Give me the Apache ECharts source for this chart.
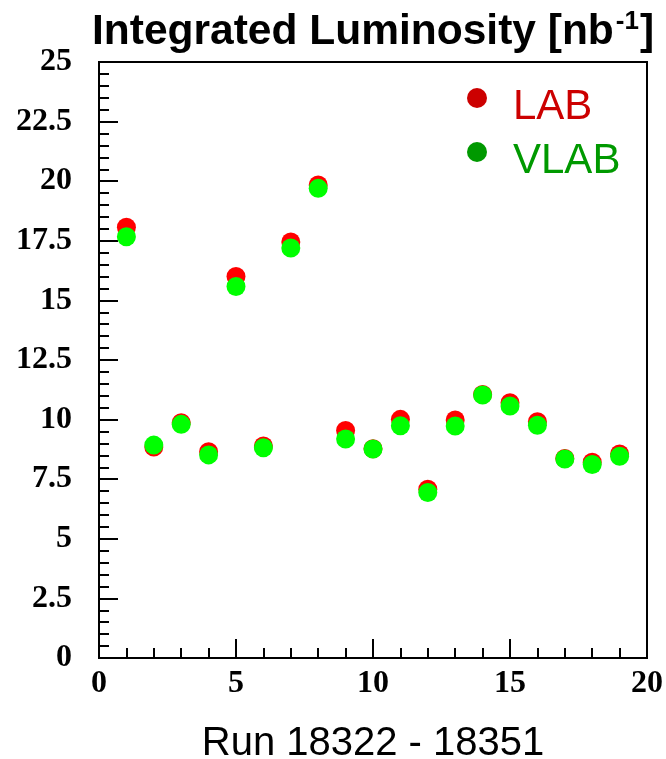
<!DOCTYPE html>
<html>
<head>
<meta charset="utf-8">
<script src="https://cdn.jsdelivr.net/npm/echarts@6/dist/echarts.min.js"></script>
<style>html,body{margin:0;padding:0;background:#fff;}#c{width:666px;height:759px;}</style>
</head>
<body>
<div id="c"></div>
<script>
var runs = [1,2,3,4,5,6,7,8,9,10,11,12,13,14,15,16,17,18,19];
var labValues  = [18.07,8.85,9.87,8.65,16.0,8.89,17.45,19.84,9.54,8.78,10.01,7.08,9.98,11.05,10.71,9.91,8.37,8.21,8.56];
var vlabValues = [17.67,8.93,9.80,8.52,15.58,8.82,17.20,19.70,9.19,8.77,9.74,6.94,9.73,11.03,10.57,9.76,8.35,8.12,8.46];
var seriesNames = ['LAB','VLAB'];
var markerColors = ['#FF0000','#00FF00'];
var legendColors = ['#CC0000','#009900'];
var titleText = 'Integrated Luminosity [nb';
var titleSup = '-1';
var xTitle = 'Run 18322 - 18351';

function pairs(vals){ return runs.map(function(r,i){ return [r, vals[i]]; }); }

var legendGraphics = [];
seriesNames.forEach(function(n, i){
  legendGraphics.push({type:'circle', shape:{cx:477, cy:98 + i*54, r:10}, style:{fill:legendColors[i]}, silent:true});
  legendGraphics.push({type:'text', x:513, y:107 + i*54, style:{text:n, fill:legendColors[i], font:'42px "Liberation Sans"', verticalAlign:'middle', align:'left'}, silent:true});
});

var chart = echarts.init(document.getElementById('c'), null, {renderer:'canvas'});
chart.setOption({
  animation:false,
  backgroundColor:'#fff',
  title:{
    text:'{a|'+titleText+'}{s|'+titleSup+'}{a|]}',
    left:92, top:9, padding:0,
    textStyle:{
      rich:{
        a:{fontFamily:'Liberation Sans',fontWeight:'bold',fontSize:42.5,color:'#000',lineHeight:46},
        s:{fontFamily:'Liberation Sans',fontWeight:'bold',fontSize:26,color:'#000',verticalAlign:'top',lineHeight:46,padding:[0,1,0,2]}
      }
    }
  },
  grid:{left:99,right:19,top:62,bottom:101,outerBoundsMode:'none',containLabel:false,show:true,borderColor:'#000',borderWidth:2,backgroundColor:'transparent'},
  graphic:legendGraphics,
  xAxis:{
    type:'value', min:0, max:20, interval:5,
    name:xTitle, nameLocation:'middle', nameGap:66,
    nameTextStyle:{fontFamily:'Liberation Sans',fontSize:40,color:'#000'},
    axisLine:{lineStyle:{color:'#000',width:2}},
    axisTick:{inside:true,length:19,lineStyle:{color:'#000',width:2}},
    minorTick:{show:true,splitNumber:5,length:10,lineStyle:{color:'#000',width:2}},
    splitLine:{show:false},
    axisLabel:{fontFamily:'Liberation Serif',fontWeight:'bold',fontSize:32,color:'#000',margin:10}
  },
  yAxis:{
    type:'value', min:0, max:25, interval:2.5,
    axisLine:{lineStyle:{color:'#000',width:2}},
    axisTick:{inside:true,length:19,lineStyle:{color:'#000',width:2}},
    minorTick:{show:true,splitNumber:5,length:10,lineStyle:{color:'#000',width:2}},
    splitLine:{show:false},
    axisLabel:{fontFamily:'Liberation Serif',fontWeight:'bold',fontSize:32,color:'#000',margin:27}
  },
  series:[
    {name:seriesNames[0],type:'scatter',symbol:'circle',symbolSize:19,data:pairs(labValues),itemStyle:{color:markerColors[0],opacity:1},z:2},
    {name:seriesNames[1],type:'scatter',symbol:'circle',symbolSize:19,data:pairs(vlabValues),itemStyle:{color:markerColors[1],opacity:1},z:3}
  ]
});
</script>
</body>
</html>
